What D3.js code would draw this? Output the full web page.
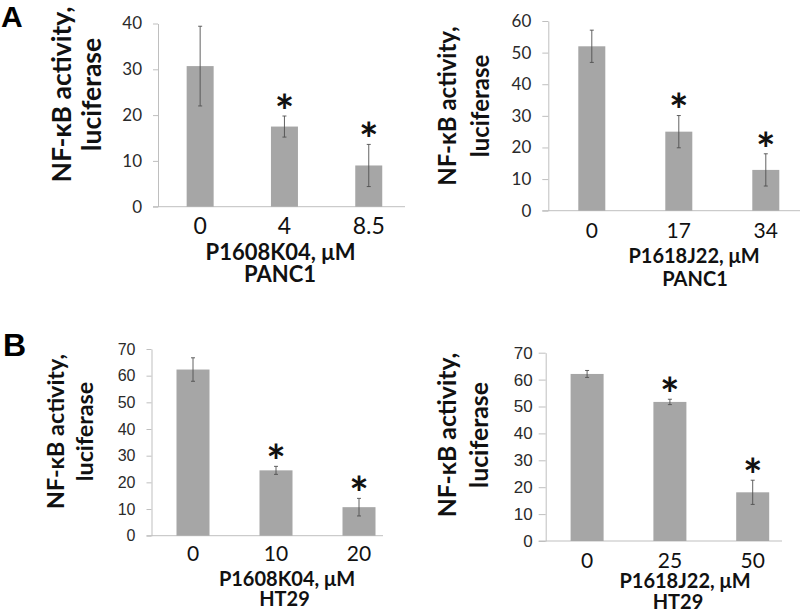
<!DOCTYPE html>
<html><head><meta charset="utf-8">
<script src="https://cdn.jsdelivr.net/npm/d3@7"></script>
<style>body{margin:0;background:#fff}svg{display:block}</style>
</head><body>
<svg id="c" width="800" height="616"></svg>
<script>
// ---- data ----
const catsA1 = ["0", "4", "8.5"];
const valsA1 = [30.7, 17.5, 9.0];
const errsA1 = [8.7, 2.3, 4.6];
const sigA1 = [false, true, true];
const ticksA1 = [0, 10, 20, 30, 40];

const catsA2 = ["0", "17", "34"];
const valsA2 = [52.0, 25.0, 12.9];
const errsA2 = [5.1, 5.1, 5.1];
const sigA2 = [false, true, true];
const ticksA2 = [0, 10, 20, 30, 40, 50, 60];

const catsB1 = ["0", "10", "20"];
const valsB1 = [62.3, 24.5, 10.7];
const errsB1 = [4.4, 1.5, 3.3];
const sigB1 = [false, true, true];
const ticksB1 = [0, 10, 20, 30, 40, 50, 60, 70];

const catsB2 = ["0", "25", "50"];
const valsB2 = [62.1, 51.7, 18.1];
const errsB2 = [1.3, 1.0, 4.5];
const sigB2 = [false, true, true];
const ticksB2 = [0, 10, 20, 30, 40, 50, 60, 70];

const yTitle1 = "NF-\u03baB activity,";
const yTitle2 = "luciferase";
const xTitleA1 = "P1608K04, \u03bcM", subA1 = "PANC1";
const xTitleA2 = "P1618J22, \u03bcM", subA2 = "PANC1";
const xTitleB1 = "P1608K04, \u03bcM", subB1 = "HT29";
const xTitleB2 = "P1618J22, \u03bcM", subB2 = "HT29";

// ---- layout ----
const svg = d3.select("#c");
const BAR = "#a6a6a6", AXIS = "#bfbfbf", ERR = "#505050";
const calibri = "Lato, 'Open Sans', sans-serif";
const arial = "'Liberation Sans', Arial, sans-serif";

const panels = [
  {cats: catsA1, vals: valsA1, errs: errsA1, sig: sigA1, ticks: ticksA1, x0: 158, xEnd: 405, step: 84.3, barW: 27,
   yTop: 23.5, yBot: 206.7, tickSize: 5, tickPad: 11, tickFont: calibri, tickFS: 17, xtFS: 23,
   ylFS: 26.5, yl1: 61.5, yl2: 91, ylc: 94.5, xtY: 226, titleFS: 22, titleX: 280.5, subX: 280,
   xtitleY: 252, subY: 274, xtitle: xTitleA1, sub: subA1},
  {cats: catsA2, vals: valsA2, errs: errsA2, sig: sigA2, ticks: ticksA2, x0: 548.3, xEnd: 800, step: 87, barW: 27,
   yTop: 21, yBot: 210.7, tickSize: 6, tickPad: 11, tickFont: calibri, tickFS: 17, xtFS: 21,
   ylFS: 24, yl1: 447.5, yl2: 480.5, ylc: 106, xtY: 230, titleFS: 20, titleX: 694, subX: 695,
   xtitleY: 256, subY: 279, xtitle: xTitleA2, sub: subA2},
  {cats: catsB1, vals: valsB1, errs: errsB1, sig: sigB1, ticks: ticksB1, x0: 151.5, xEnd: 383, step: 83, barW: 33,
   yTop: 349, yBot: 535.7, tickSize: 5, tickPad: 11, tickFont: arial, tickFS: 16, xtFS: 21,
   ylFS: 23.3, yl1: 56, yl2: 84.5, ylc: 431.5, xtY: 553, titleFS: 20, titleX: 287, subX: 284.5,
   xtitleY: 579, subY: 599, xtitle: xTitleB1, sub: subB1},
  {cats: catsB2, vals: valsB2, errs: errsB2, sig: sigB2, ticks: ticksB2, x0: 545.7, xEnd: 782, step: 82.8, barW: 33,
   yTop: 352.7, yBot: 541, tickSize: 7, tickPad: 6, tickFont: arial, tickFS: 17, xtFS: 21,
   ylFS: 24.8, yl1: 447.5, yl2: 479.5, ylc: 435, xtY: 560, titleFS: 20, titleX: 685, subX: 678,
   xtitleY: 581, subY: 602, xtitle: xTitleB2, sub: subB2}
];

panels.forEach(p => {
  const g = svg.append("g");
  const x = d3.scaleBand().domain(p.cats).range([p.x0, p.x0 + p.step * p.cats.length])
    .paddingInner(1 - p.barW / p.step).paddingOuter((1 - p.barW / p.step) / 2);
  const y = d3.scaleLinear().domain([0, d3.max(p.ticks)]).range([p.yBot, p.yTop]);

  // y axis
  const ya = g.append("g").attr("transform", `translate(${p.x0},0)`)
    .call(d3.axisLeft(y).tickValues(p.ticks).tickSize(p.tickSize).tickPadding(p.tickPad).tickSizeOuter(0));
  ya.select(".domain").attr("stroke", AXIS);
  ya.selectAll(".tick line").attr("stroke", AXIS);
  ya.selectAll(".tick text").attr("font-family", p.tickFont).attr("font-size", p.tickFS).attr("fill", "#2a2a2a");

  // x axis line
  g.append("line").attr("x1", p.x0 - p.tickSize).attr("x2", p.xEnd).attr("y1", y(0)).attr("y2", y(0))
    .attr("stroke", AXIS);

  // bars
  g.selectAll("rect.bar").data(p.vals).join("rect").attr("class", "bar")
    .attr("x", (d, i) => x(p.cats[i])).attr("width", x.bandwidth())
    .attr("y", d => y(d)).attr("height", d => y(0) - y(d)).attr("fill", BAR);

  // error bars + significance
  p.vals.forEach((v, i) => {
    const cx = x(p.cats[i]) + x.bandwidth() / 2;
    const e = p.errs[i];
    g.append("line").attr("x1", cx).attr("x2", cx).attr("y1", y(v + e)).attr("y2", y(v - e))
      .attr("stroke", ERR).attr("stroke-width", 0.9);
    [v + e, v - e].forEach(t => g.append("line").attr("x1", cx - 2).attr("x2", cx + 2)
      .attr("y1", y(t)).attr("y2", y(t)).attr("stroke", ERR).attr("stroke-width", 0.9));
    if (p.sig[i]) {
      g.append("text").attr("x", cx).attr("y", y(v + e) - 14).attr("dy", "0.56em")
        .attr("text-anchor", "middle").attr("font-family", calibri).attr("font-weight", "bold")
        .attr("font-size", 46).attr("fill", "#111").text("*");
    }
  });

  // x tick labels
  g.selectAll("text.xt").data(p.cats).join("text").attr("class", "xt")
    .attr("x", d => x(d) + x.bandwidth() / 2).attr("y", p.xtY).attr("dy", "0.36em")
    .attr("text-anchor", "middle").attr("font-family", calibri).attr("font-size", p.xtFS).attr("fill", "#111")
    .text(d => d);

  // x titles (two lines in one text element)
  const tt = g.append("text").attr("text-anchor", "middle").attr("font-family", calibri)
    .attr("font-weight", "bold").attr("font-size", p.titleFS).attr("fill", "#111");
  tt.append("tspan").attr("x", p.titleX).attr("y", p.xtitleY).attr("dy", "0.36em").text(p.xtitle);
  tt.append("tspan").attr("x", p.subX).attr("y", p.subY).attr("dy", "0.36em").text(p.sub);

  // y titles (two lines in one text element)
  const yt = g.append("text").attr("transform", `translate(${p.yl1},${p.ylc}) rotate(-90)`)
    .attr("text-anchor", "middle").attr("font-family", calibri).attr("font-weight", "bold")
    .attr("font-size", p.ylFS).attr("fill", "#111");
  yt.append("tspan").attr("x", 0).attr("y", 0).attr("dy", "0.36em").text(yTitle1);
  yt.append("tspan").attr("x", 0).attr("y", p.yl2 - p.yl1).attr("dy", "0.36em").text(yTitle2);
});

// panel letters
svg.append("text").attr("x", 1).attr("y", 27).attr("font-family", arial).attr("font-weight", "bold")
  .attr("font-size", 30).attr("fill", "#000").text("A");
svg.append("text").attr("x", 3).attr("y", 356).attr("font-family", arial).attr("font-weight", "bold")
  .attr("font-size", 32).attr("fill", "#000").text("B");
</script>
</body></html>
